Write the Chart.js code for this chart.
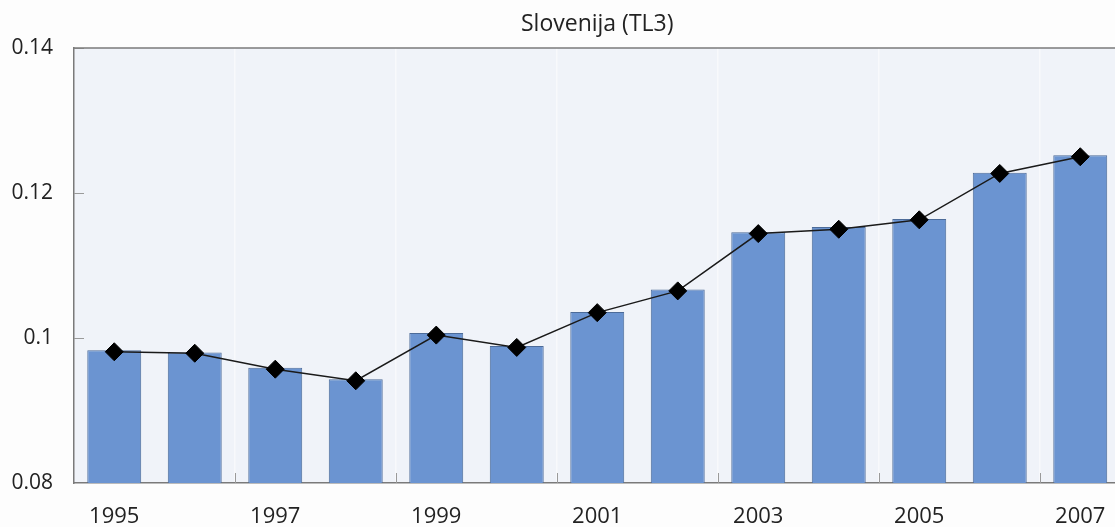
<!DOCTYPE html>
<html>
<head>
<meta charset="utf-8">
<script src="https://cdn.jsdelivr.net/npm/chart.js@4/dist/chart.umd.min.js"></script>
<style>
html,body{margin:0;padding:0;background:#fdfdfd;overflow:hidden;}
#wrap{width:1194px;height:527px;position:relative;}
</style>
</head>
<body>
<div id="wrap"><canvas id="c"></canvas></div>
<script>
const categories = ['1995','1996','1997','1998','1999','2000','2001','2002','2003','2004','2005','2006','2007'];
const barValues = [0.0983,0.0980,0.0959,0.0943,0.1007,0.0989,0.1036,0.1067,0.1146,0.1153,0.1164,0.1228,0.1252];
const lineValues = [0.0981,0.0979,0.0957,0.0941,0.1004,0.0987,0.1035,0.1065,0.1144,0.1150,0.1163,0.1227,0.1250];
const yTicks = [0.08,0.10,0.12,0.14];
const yTickLabels = ['0.08','0.1','0.12','0.14'];
const titleText = 'Slovenija (TL3)';

const FONT = "'Open Sans', 'DejaVu Sans', sans-serif";

const bgPlugin = {
  id: 'bgPlugin',
  beforeDraw(chart) {
    const {ctx, chartArea: a} = chart;
    ctx.save();
    ctx.fillStyle = '#f0f3f9';
    ctx.fillRect(a.left, a.top, a.right - a.left, a.bottom - a.top);
    ctx.restore();
  },
  beforeDatasetsDraw(chart) {
    const {ctx, chartArea: a, scales} = chart;
    ctx.save();
    ctx.strokeStyle = '#9a9a9a';
    ctx.lineWidth = 1;
    yTicks.forEach((v, i) => {
      if (i === 0) return;
      const y = Math.round(scales.y.getPixelForValue(v)) + 0.5;
      ctx.beginPath();
      ctx.moveTo(a.left, y);
      ctx.lineTo(a.left + 10, y);
      ctx.stroke();
    });
    const xs = scales.x;
    for (let i = 2; i < categories.length; i += 2) {
      const x = Math.round((xs.getPixelForValue(i - 1) + xs.getPixelForValue(i)) / 2) + 0.5;
      ctx.beginPath();
      ctx.moveTo(x, a.bottom);
      ctx.lineTo(x, a.bottom - 10);
      ctx.stroke();
    }
    ctx.strokeStyle = '#7a7a7a';
    ctx.lineWidth = 1.5;
    ctx.beginPath();
    ctx.moveTo(a.left, a.top);
    ctx.lineTo(a.right, a.top);
    ctx.stroke();
    ctx.restore();
  },
  afterDraw(chart) {
    const {ctx, chartArea: a} = chart;
    ctx.save();
    ctx.fillStyle = '#222';
    ctx.font = "normal 23px " + FONT;
    ctx.textAlign = 'center';
    ctx.textBaseline = 'middle';
    ctx.fillText(titleText, (a.left + a.right) / 2, 24);
    ctx.restore();
  }
};

new Chart(document.getElementById('c'), {
  data: {
    labels: categories,
    datasets: [
      {
        type: 'line',
        data: lineValues,
        borderColor: '#1a1a1a',
        borderWidth: 1.5,
        pointStyle: 'rectRot',
        pointRadius: 9,
        pointBackgroundColor: '#000',
        pointBorderColor: '#000',
        pointBorderWidth: 1,
        tension: 0,
        order: 0
      },
      {
        type: 'bar',
        data: barValues,
        backgroundColor: '#6b94d1',
        borderColor: '#4c6b99',
        borderWidth: 1,
        categoryPercentage: 1,
        barPercentage: 0.67,
        order: 1
      }
    ]
  },
  options: {
    responsive: true,
    maintainAspectRatio: false,
    animation: false,
    layout: {padding: {left: 0, right: 73.5, top: 48, bottom: 0}},
    plugins: {
      legend: {display: false},
      tooltip: {enabled: false},
      title: {display: false}
    },
    scales: {
      x: {
        type: 'category',
        offset: true,
        grid: {
          offset: true,
          drawTicks: false,
          color: (c) => (c.index % 2 === 0 && c.index > 0) ? '#f8f9fc' : 'rgba(0,0,0,0)',
          lineWidth: 1.5
        },
        border: {display: true, color: '#7a7a7a', width: 1.5},
        ticks: {
          autoSkip: false,
          maxRotation: 0,
          padding: 21,
          color: '#222',
          font: {family: FONT, size: 22},
          callback: (v, i) => i % 2 === 0 ? categories[i] : ''
        },
        afterFit: (s) => { s.height = 44; }
      },
      y: {
        min: 0.08,
        max: 0.14,
        afterBuildTicks: (s) => { s.ticks = yTicks.map(v => ({value: v})); },
        grid: {drawOnChartArea: false, drawTicks: false},
        border: {display: true, color: '#7a7a7a', width: 1.5},
        ticks: {
          padding: 21,
          color: '#222',
          font: {family: FONT, size: 21},
          callback: (v) => { const i = yTicks.findIndex(t => Math.abs(t - v) < 1e-9); return i >= 0 ? yTickLabels[i] : ''; }
        },
        afterFit: (s) => { s.width = 74; }
      }
    }
  },
  plugins: [bgPlugin]
});
</script>
</body>
</html>
